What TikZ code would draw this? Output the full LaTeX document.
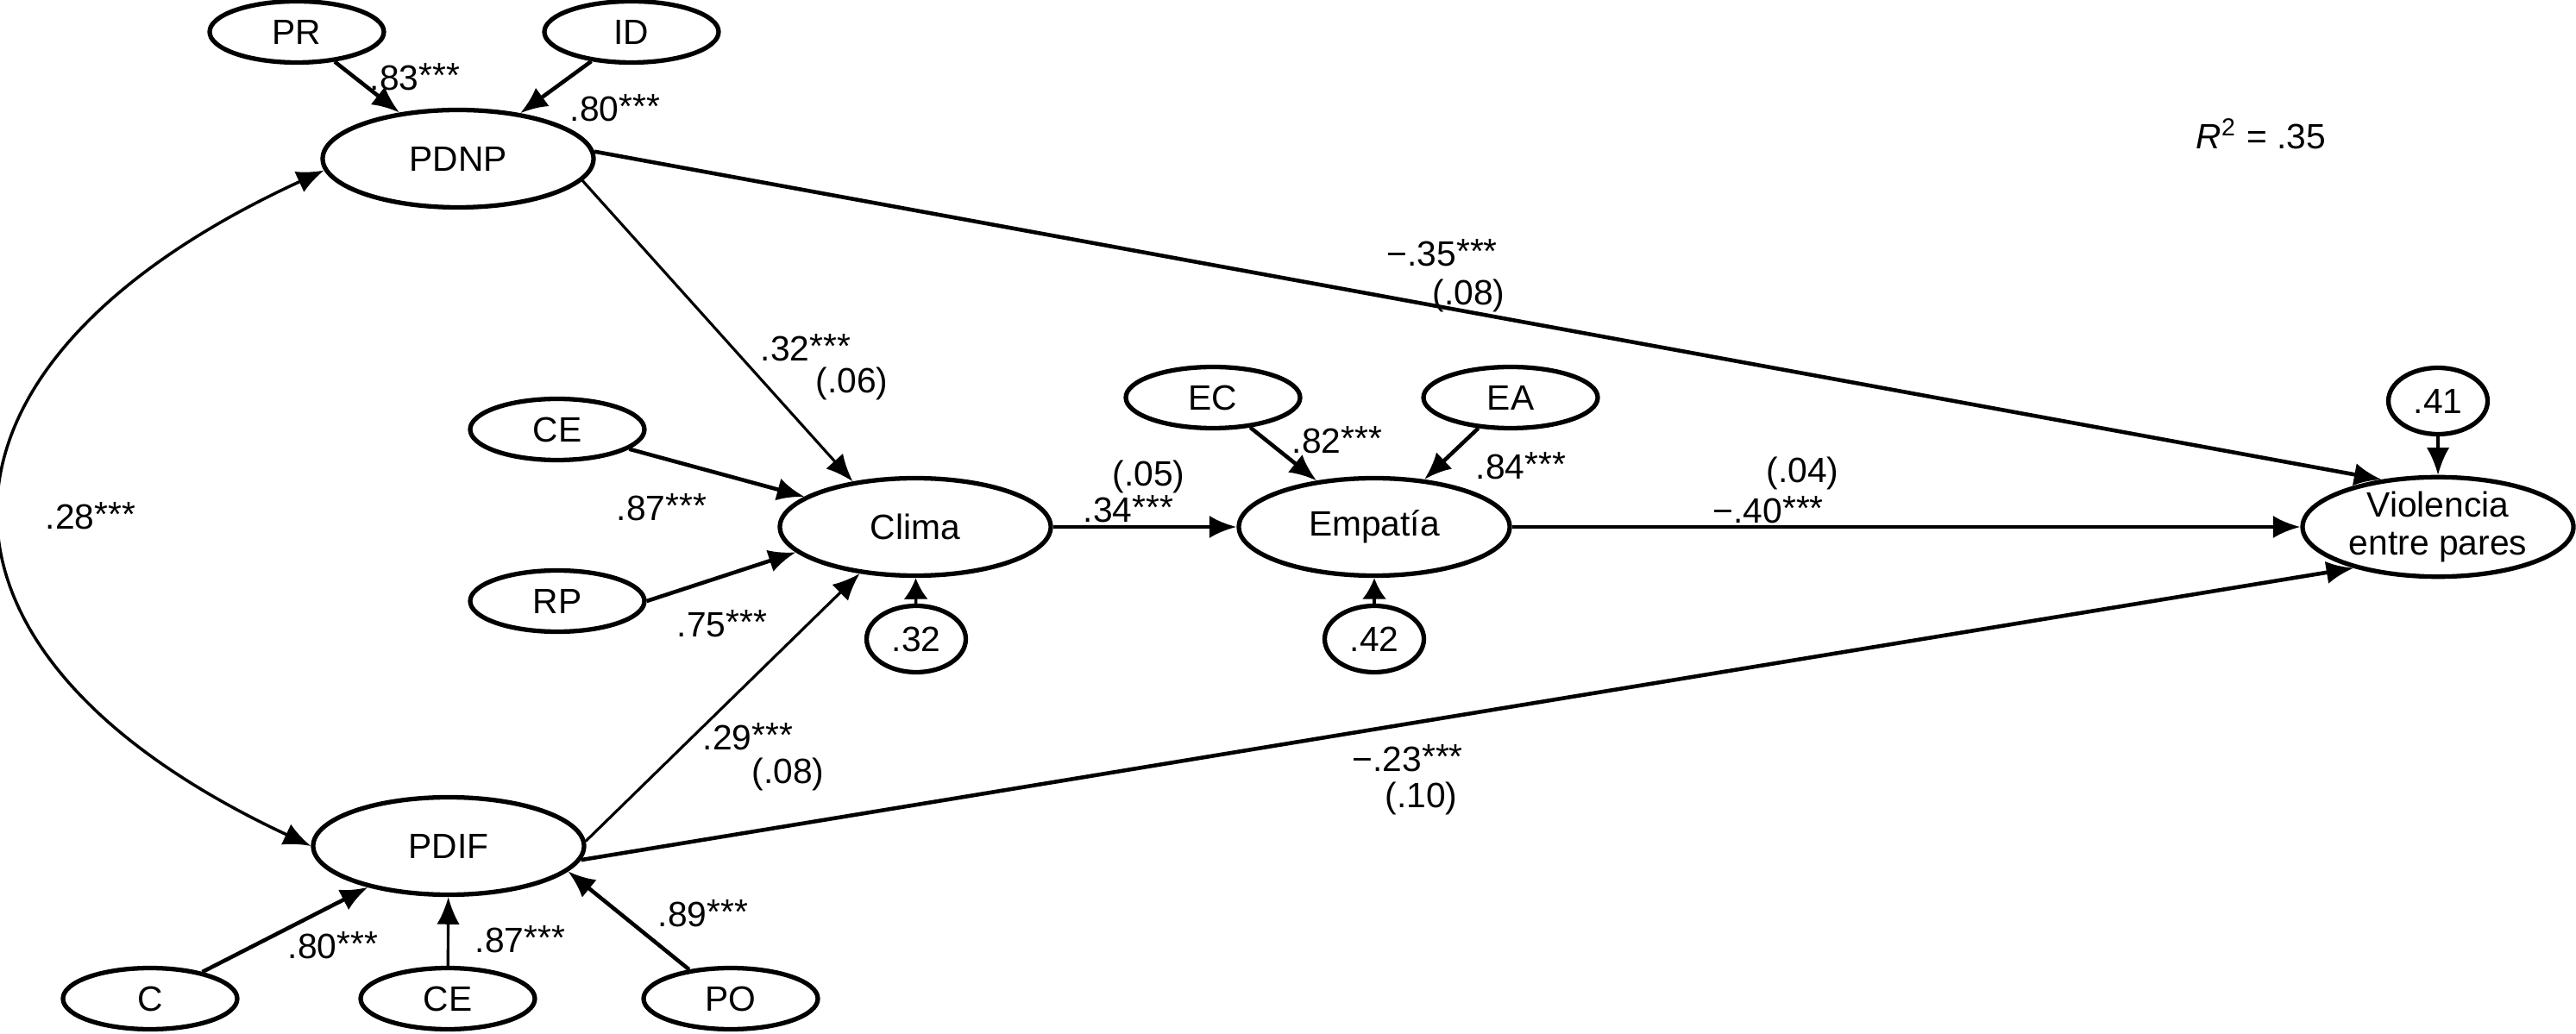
\documentclass[tikz,border=0pt]{standalone}
\usepackage{fontspec}
\setmainfont{Liberation Sans}
\usetikzlibrary{arrows.meta,shapes.geometric}
\newcommand{\signif}{\raisebox{0.08em}{***}}

\begin{document}
\begin{tikzpicture}[x=1cm,y=1cm,>={Latex[length=9pt,width=7.5pt]},
    font=\fontsize{11.6}{12.4}\selectfont]
    \tikzstyle{latent}=[draw, ellipse, line width=1.5pt, inner sep=0pt, align=center,
        minimum width=3.14cm, minimum height=1.13cm]
    \tikzstyle{indicator}=[draw, ellipse, line width=1.5pt, inner sep=0pt,
        minimum width=2.02cm, minimum height=0.71cm]
    \tikzstyle{resid}=[draw, ellipse, line width=1.5pt, inner sep=0pt,
        minimum width=1.15cm, minimum height=0.77cm]
    \tikzstyle{coef}=[anchor=west, inner sep=0pt]
    \tikzstyle{effect}=[->, line width=1.3pt]
    \tikzstyle{thineffect}=[->, line width=0.9pt]
    \tikzstyle{residarrow}=[-{Latex[length=7pt,width=8pt]}, line width=1pt]

    \useasboundingbox (0,0) rectangle (29.86,11.98);

    % Latent variables
    \node[latent] (PDNP) at (5.31,10.14) {PDNP};
    \node[latent] (PDIF) at (5.20,2.17) {PDIF};
    \node[latent] (clima) at (10.61,5.87) {Clima};
    \node[latent] (empatia) at (15.93,5.87) {Empatía};
    \node[latent] (violencia) at (28.26,5.87) {Violencia\\entre pares};

    % Indicators
    \node[indicator] (PR) at (3.44,11.61) {PR};
    \node[indicator] (ID) at (7.32,11.61) {ID};
    \node[indicator] (CEclima) at (6.46,7.00) {CE};
    \node[indicator] (RP) at (6.46,5.01) {RP};
    \node[indicator] (EC) at (14.06,7.37) {EC};
    \node[indicator] (EA) at (17.51,7.37) {EA};
    \node[indicator] (C) at (1.74,0.40) {C};
    \node[indicator] (CEpdif) at (5.19,0.40) {CE};
    \node[indicator] (PO) at (8.47,0.40) {PO};

    % Residuals
    \node[resid] (resclima) at (10.62,4.57) {.32};
    \node[resid] (resempatia) at (15.93,4.57) {.42};
    \node[resid] (resviolencia) at (28.26,7.33) {.41};

    % Loadings
    \draw[effect] (PR) -- (PDNP);
    \draw[effect] (ID) -- (PDNP);
    \draw[effect] (CEclima) -- (clima);
    \draw[effect] (RP.east) -- (clima.192);
    \draw[effect] (EC) -- (empatia);
    \draw[effect] (EA) -- (empatia);
    \draw[effect] (C) -- (PDIF);
    \draw[thineffect] (CEpdif) -- (PDIF);
    \draw[effect] (PO.145) -- (PDIF.-12);

    % Structural paths
    \draw[thineffect] (PDNP.-10) -- (clima.144);
    \draw[thineffect] (PDIF.2) -- (clima.220);
    \draw[effect] (PDNP.3) -- (violencia.140);
    \draw[effect] (PDIF.-6) -- (violencia.206);
    \draw[effect] (clima) -- (empatia);
    \draw[effect] (empatia) -- (violencia);
    \draw[residarrow] (resclima) -- (clima);
    \draw[residarrow] (resempatia) -- (empatia);
    \draw[thineffect] (resviolencia) -- (violencia);

    % Covariance
    \draw[<->, line width=1pt] (PDNP.185) .. controls (-1.14,7.75) and (-1.23,4.43) .. (PDIF.west);

    % Coefficients
    \node[coef] (kPR) at (4.28,11.09) {.83\signif};
    \node[coef] (kID) at (6.60,10.73) {.80\signif};
    \node[coef] (rsq) at (25.45,10.43) {\textit{R}\textsuperscript{2} = .35};
    \node[coef] (kPDNPviol) at (16.07,9.05) {−.35\signif};
    \node[coef] (sePDNPviol) at (16.60,8.55) {(.08)};
    \node[coef] (kPDNPclima) at (8.81,7.95) {.32\signif};
    \node[coef] (sePDNPclima) at (9.45,7.53) {(.06)};
    \node[coef] (kCEclima) at (7.14,6.10) {.87\signif};
    \node[coef] (kRP) at (7.84,4.75) {.75\signif};
    \node[coef] (kcov) at (0.52,6.00) {.28\signif};
    \node[coef] (seclimaemp) at (12.89,6.45) {(.05)};
    \node[coef] (kclimaemp) at (12.55,6.08) {.34\signif};
    \node[coef] (kEC) at (14.97,6.88) {.82\signif};
    \node[coef] (kEA) at (17.10,6.58) {.84\signif};
    \node[coef] (seempviol) at (20.47,6.49) {(.04)};
    \node[coef] (kempviol) at (19.85,6.07) {−.40\signif};
    \node[coef] (kPDIFclima) at (8.14,3.44) {.29\signif};
    \node[coef] (sePDIFclima) at (8.71,3.00) {(.08)};
    \node[coef] (kPDIFviol) at (15.67,3.19) {−.23\signif};
    \node[coef] (sePDIFviol) at (16.05,2.72) {(.10)};
    \node[coef] (kC) at (3.33,1.02) {.80\signif};
    \node[coef] (kCEpdif) at (5.50,1.09) {.87\signif};
    \node[coef] (kPO) at (7.62,1.39) {.89\signif};
\end{tikzpicture}
\end{document}
